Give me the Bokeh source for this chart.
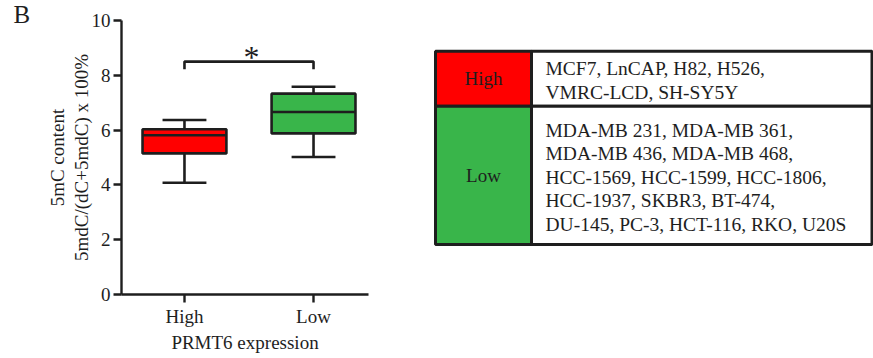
from bokeh.plotting import figure
from bokeh.layouts import row
from bokeh.models import Range1d, FixedTicker, ColumnDataSource
from bokeh.core.properties import value
from bokeh.embed import file_html
from bokeh.resources import INLINE

# ---- data ----
categories = ["High", "Low"]
mins = [4.08, 5.02]
q1 = [5.15, 5.88]
medians = [5.81, 6.66]
q3 = [6.03, 7.33]
maxs = [6.37, 7.58]
box_colors = ["#ff0000", "#39b54a"]
y_ticks = [0, 2, 4, 6, 8, 10]
sig_y = 8.5
sig_cap = 8.22
sig_label = "*"

table_groups = ["High", "Low"]
table_colors = ["#ff0000", "#39b54a"]
table_lines = [
    ["MCF7, LnCAP, H82, H526,", "VMRC-LCD, SH-SY5Y"],
    ["MDA-MB 231, MDA-MB 361,", "MDA-MB 436, MDA-MB 468,",
     "HCC-1569, HCC-1599, HCC-1806,", "HCC-1937, SKBR3, BT-474,",
     "DU-145, PC-3, HCT-116, RKO, U20S"],
]

FONT = "Liberation Serif"
INK = "#1e1e1e"
TOP, BOTTOM = 20, 64
H = 358

# ---- box plot ----
xs = [i + 1 for i in range(len(categories))]
p = figure(width=420, height=H, output_backend="svg", toolbar_location=None,
           x_range=Range1d(0.512, 2.426), y_range=Range1d(0, 10),
           min_border_left=121, min_border_right=52, min_border_top=TOP, min_border_bottom=BOTTOM,
           title="B")
p.title.align = "left"
p.title.offset = -108
p.title.standoff = -14
p.title.text_font = FONT
p.title.text_font_size = "25px"
p.title.text_font_style = "normal"
p.title.text_color = INK
p.outline_line_color = None
p.xgrid.visible = False
p.ygrid.visible = False

bw = 0.65
cw = 0.34
src = ColumnDataSource(dict(x=xs, lo=mins, q1=q1, med=medians, q3=q3, hi=maxs,
                            color=box_colors,
                            l=[x - bw / 2 for x in xs], r=[x + bw / 2 for x in xs],
                            cl=[x - cw / 2 for x in xs], cr=[x + cw / 2 for x in xs]))
LW = 2.6
p.segment(x0="x", y0="q3", x1="x", y1="hi", source=src, line_color=INK, line_width=LW)
p.segment(x0="x", y0="q1", x1="x", y1="lo", source=src, line_color=INK, line_width=LW)
p.segment(x0="cl", y0="hi", x1="cr", y1="hi", source=src, line_color=INK, line_width=LW)
p.segment(x0="cl", y0="lo", x1="cr", y1="lo", source=src, line_color=INK, line_width=LW)
p.quad(left="l", right="r", bottom="q1", top="q3", source=src, fill_color="color",
       line_color=INK, line_width=LW)
p.segment(x0="l", y0="med", x1="r", y1="med", source=src, line_color=INK, line_width=LW)

# significance bracket
p.line(x=[xs[0], xs[0], xs[1], xs[1]], y=[sig_cap, sig_y, sig_y, sig_cap],
       line_color=INK, line_width=LW)
p.text(x=[(xs[0] + xs[1]) / 2 + 0.02], y=[sig_y + 0.17], text=[sig_label],
       text_font=value(FONT), text_font_size="32px", text_align="center",
       text_baseline="middle", text_color=INK)

for ax in (p.xaxis[0], p.yaxis[0]):
    ax.axis_line_width = 2.4
    ax.axis_line_color = INK
    ax.major_tick_line_width = 2.4
    ax.major_tick_line_color = INK
    ax.major_tick_out = 8
    ax.major_tick_in = 0
    ax.minor_tick_line_color = None
    ax.major_label_text_font = FONT
    ax.major_label_text_font_size = "19px"
    ax.major_label_text_color = INK
    ax.axis_label_text_font = FONT
    ax.axis_label_text_font_size = "19px"
    ax.axis_label_text_font_style = "normal"
    ax.axis_label_text_color = INK

p.yaxis.ticker = FixedTicker(ticks=y_ticks)
p.yaxis.major_label_standoff = 3
p.yaxis.axis_label = "5mC content\n5mdC/(dC+5mdC) x 100%"
p.yaxis.axis_label_text_line_height = 1.1
p.yaxis.axis_label_standoff = -3
p.xaxis.ticker = FixedTicker(ticks=xs)
p.xaxis.major_label_overrides = {x: c for x, c in zip(xs, categories)}
p.xaxis.major_label_standoff = 3
p.xaxis.axis_label = "PRMT6 expression"
p.xaxis.axis_label_standoff = 2

# ---- table (data units equal canvas pixels) ----
t = figure(width=453, height=H, output_backend="svg", toolbar_location=None,
           x_range=Range1d(0, 453), y_range=Range1d(H - BOTTOM, TOP),
           min_border_left=0, min_border_right=0,
           min_border_top=TOP, min_border_bottom=BOTTOM)
t.axis.visible = False
t.xgrid.visible = False
t.ygrid.visible = False
t.outline_line_color = None

left, mid, right = 15, 111, 451.5
row_edges = [50.7, 105.7, 244]
lh = 23.5
for i, g in enumerate(table_groups):
    top, bot = row_edges[i], row_edges[i + 1]
    t.quad(left=[left], right=[mid], top=[top], bottom=[bot], fill_color=table_colors[i],
           line_color=INK, line_width=3)
    t.quad(left=[mid], right=[right], top=[top], bottom=[bot], fill_color="white",
           line_color=INK, line_width=3)
    cy = (top + bot) / 2
    t.text(x=[(left + mid) / 2], y=[cy], text=[g], text_font=value(FONT),
           text_font_size="19px", text_align="center", text_baseline="middle",
           text_color=INK)
    n = len(table_lines[i])
    ys = [cy + 2 + (k - (n - 1) / 2) * lh for k in range(n)]
    t.text(x=[125] * n, y=ys, text=table_lines[i], text_font=value(FONT),
           text_font_size="19.5px", text_align="left", text_baseline="middle",
           text_color=INK)

layout = row(p, t)
open("out.html", "w").write(file_html(layout, INLINE))
